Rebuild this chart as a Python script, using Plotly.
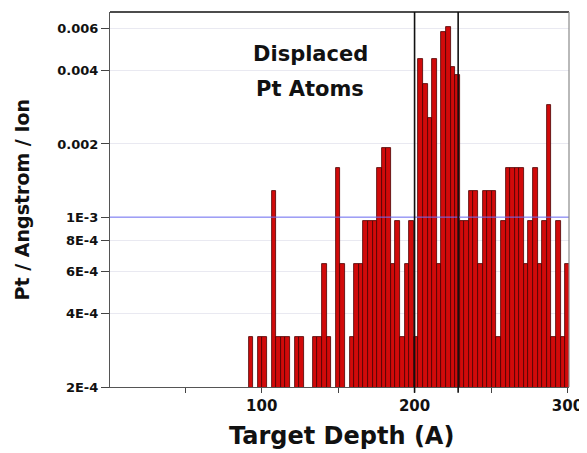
import plotly.graph_objects as go

# Bin centres (Angstrom) – 3 A wide bins
depth = [93, 96, 99, 102, 105, 108, 111, 114, 117, 120,
         123, 126, 129, 132, 135, 138, 141, 144, 147, 150,
         153, 156, 159, 162, 165, 168, 171, 174, 177, 180,
         183, 186, 189, 192, 195, 198, 201, 204, 207, 210,
         213, 216, 219, 222, 225, 228, 231, 234, 237, 240,
         243, 246, 249, 252, 255, 258, 261, 264, 267, 270,
         273, 276, 279, 282, 285, 288, 291, 294, 297, 300]

# Pt / Angstrom / Ion (None = empty bin)
pt_per_ion = [3.2e-4, None, 3.2e-4, 3.2e-4, None, 1.28e-3, 3.2e-4, 3.2e-4, 3.2e-4, None,
              3.2e-4, 3.2e-4, None, None, 3.2e-4, 3.2e-4, 6.4e-4, 3.2e-4, None, 1.6e-3,
              6.4e-4, None, 3.2e-4, 6.4e-4, 6.4e-4, 9.6e-4, 9.6e-4, 9.6e-4, 1.6e-3, 1.92e-3,
              1.92e-3, 6.4e-4, 9.6e-4, 3.2e-4, 6.4e-4, 9.6e-4, 3.2e-4, 4.48e-3, 3.52e-3, 2.56e-3,
              4.48e-3, 6.4e-4, 5.76e-3, 6.08e-3, 4.16e-3, 3.84e-3, 9.6e-4, 9.6e-4, 1.28e-3, 1.28e-3,
              6.4e-4, 1.28e-3, 1.28e-3, 1.28e-3, 3.2e-4, 9.6e-4, 1.6e-3, 1.6e-3, 1.6e-3, 1.6e-3,
              6.4e-4, 9.6e-4, 1.6e-3, 6.4e-4, 9.6e-4, 2.88e-3, 3.2e-4, 9.6e-4, 3.2e-4, 6.4e-4]

y_tick_vals = [2e-4, 4e-4, 6e-4, 8e-4, 1e-3, 2e-3, 4e-3, 6e-3]
y_tick_text = ["2E-4", "4E-4", "6E-4", "8E-4", "1E-3", "0.002", "0.004", "0.006"]
x_tick_vals = [50, 100, 150, 200, 250, 300]
x_tick_text = ["", "100", "", "200", "", "300"]
region_lines = [200, 228.5]
reference_level = 1e-3

FONT = "DejaVu Sans"
OFF = 8  # page body margin
W, H = 587 - OFF, 453 - OFF
# plot area in screen pixels: left 110, right 571, top 12, bottom 387
L = 110 - OFF
T = 12 - OFF
R = W - (571 - OFF)
B = H - (387 - OFF)
PW, PH = W - L - R, H - T - B


def px(xs):
    return (xs - OFF - L) / PW


def py(ys):
    return (T + PH - (ys - OFF)) / PH


fig = go.Figure()
fig.add_trace(go.Bar(
    x=depth, y=pt_per_ion, width=3,
    marker=dict(color="#d10a0a", line=dict(color="#4a0000", width=0.8)),
    showlegend=False,
))

shapes = []
shapes.append(dict(type="line", xref="paper", yref="y", x0=0, x1=1,
                   y0=reference_level, y1=reference_level,
                   line=dict(color="#6f6ff5", width=1), layer="above"))
for xv in region_lines:
    shapes.append(dict(type="line", xref="x", yref="paper", x0=xv, x1=xv,
                       y0=-0.015, y1=1, line=dict(color="#111111", width=1.6),
                       layer="above"))
# top border
shapes.append(dict(type="line", xref="paper", yref="paper", x0=0, x1=1, y0=1, y1=1,
                   line=dict(color="#111111", width=1.6), layer="above"))
# right border
shapes.append(dict(type="line", xref="paper", yref="paper", x0=1, x1=1, y0=0, y1=1,
                   line=dict(color="#8a8a8a", width=1.2), layer="above"))

annotations = [
    dict(text="<b>Displaced</b>", x=px(311), y=py(54), xref="paper", yref="paper",
         showarrow=False, font=dict(family=FONT, size=21, color="#111"),
         xanchor="center", yanchor="middle"),
    dict(text="<b>Pt Atoms</b>", x=px(311), y=py(89), xref="paper", yref="paper",
         showarrow=False, font=dict(family=FONT, size=21, color="#111"),
         xanchor="center", yanchor="middle"),
    dict(text="<b>Pt / Angstrom / Ion</b>", x=px(22), y=py(200), xref="paper", yref="paper",
         showarrow=False, textangle=-90, font=dict(family=FONT, size=19, color="#111"),
         xanchor="center", yanchor="middle"),
    dict(text="<b>Target Depth (A)</b>", x=px(343), y=py(436), xref="paper", yref="paper",
         showarrow=False, font=dict(family=FONT, size=24, color="#111"),
         xanchor="center", yanchor="middle"),
]

fig.update_layout(
    width=W, height=H,
    margin=dict(l=L, r=R, t=T, b=B, pad=0),
    paper_bgcolor="white", plot_bgcolor="white",
    bargap=0,
    shapes=shapes,
    annotations=annotations,
    xaxis=dict(range=[0.8, 301], tickvals=x_tick_vals, ticktext=x_tick_text,
               ticks="outside", ticklen=5, tickwidth=1, tickcolor="#444",
               showgrid=False, zeroline=False,
               showline=True, linecolor="#555", linewidth=1.2,
               tickfont=dict(family=FONT, size=15, color="#111", weight="bold")),
    yaxis=dict(type="log", range=[-3.69897, -2.156],
               tickvals=y_tick_vals, ticktext=y_tick_text,
               ticks="outside", ticklen=8, tickwidth=1, tickcolor="#444",
               showgrid=True, gridcolor="#e9e9f1", gridwidth=1,
               zeroline=False, showline=True, linecolor="#555", linewidth=1.2,
               tickfont=dict(family=FONT, size=13, color="#111", weight="bold")),
)

fig.write_html("out.html")
